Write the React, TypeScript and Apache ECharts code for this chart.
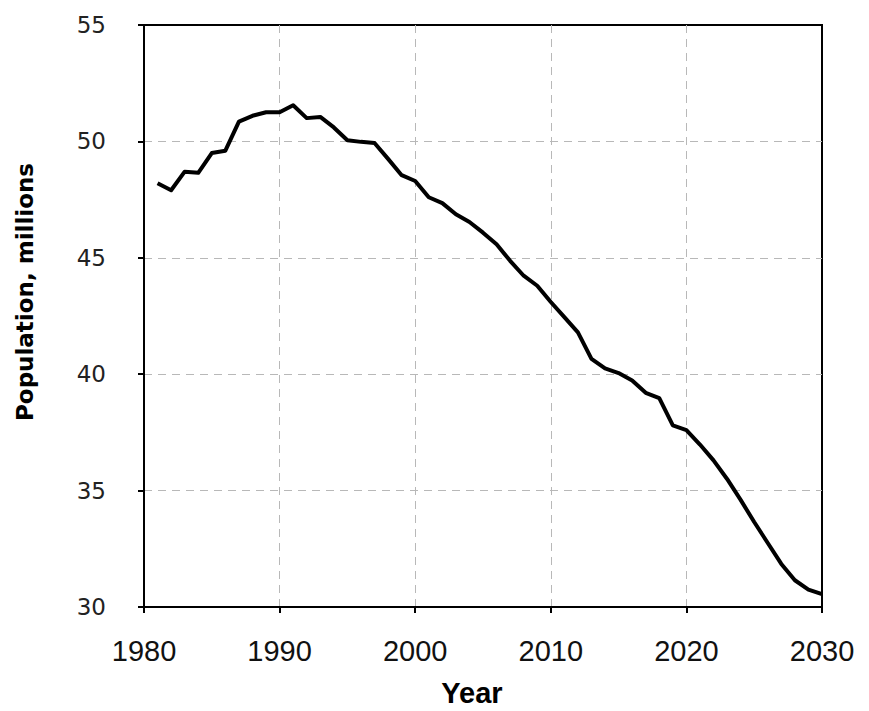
import React, { useEffect, useRef } from "react";
import * as echarts from "echarts";

const years: number[] = [
  1981, 1982, 1983, 1984, 1985, 1986, 1987, 1988, 1989, 1990,
  1991, 1992, 1993, 1994, 1995, 1996, 1997, 1998, 1999, 2000,
  2001, 2002, 2003, 2004, 2005, 2006, 2007, 2008, 2009, 2010,
  2011, 2012, 2013, 2014, 2015, 2016, 2017, 2018, 2019, 2020,
  2021, 2022, 2023, 2024, 2025, 2026, 2027, 2028, 2029, 2030,
];

const population: number[] = [
  48.2, 47.9, 48.7, 48.65, 49.5, 49.6, 50.85, 51.1, 51.25, 51.25,
  51.55, 51.0, 51.05, 50.6, 50.05, 49.98, 49.93, 49.25, 48.55, 48.3,
  47.6, 47.35, 46.87, 46.54, 46.08, 45.58, 44.87, 44.23, 43.8, 43.1,
  42.45, 41.8, 40.66, 40.25, 40.05, 39.73, 39.2, 38.97, 37.8, 37.6,
  36.98, 36.3, 35.5, 34.6, 33.65, 32.75, 31.85, 31.15, 30.75, 30.55,
];

const xTitle = "Year";
const yTitle = "Population, millions";

export default function App() {
  const ref = useRef<HTMLDivElement>(null);
  useEffect(() => {
    if (!ref.current) return;
    const chart = echarts.init(ref.current, null, { renderer: "svg" });
    const data = years.map((y, i) => [y, population[i]]);
    const grid = { left: 144, top: 25, right: 47, bottom: 104 };
    const split = {
      show: true,
      showMinLine: false,
      showMaxLine: false,
      lineStyle: { color: "#b8b8b8", type: [8, 6], width: 1 },
    };
    chart.setOption({
      animation: false,
      backgroundColor: "#ffffff",
      grid: { ...grid, show: true, borderColor: "#000", borderWidth: 2, backgroundColor: "transparent" },
      xAxis: {
        type: "value",
        min: 1980,
        max: 2030,
        interval: 10,
        axisLine: { show: true, onZero: false, lineStyle: { color: "#000", width: 2 } },
        axisTick: { show: true, length: 6, lineStyle: { color: "#000", width: 2 } },
        axisLabel: {
          margin: 29,
          color: "#111",
          fontSize: 29,
          fontFamily: "'Liberation Sans', Arial, sans-serif",
          formatter: (v: number) => String(v),
        },
        splitLine: split,
      },
      yAxis: {
        type: "value",
        min: 30,
        max: 55,
        interval: 5,
        axisLine: { show: true, onZero: false, lineStyle: { color: "#000", width: 2 } },
        axisTick: { show: true, length: 6, lineStyle: { color: "#000", width: 2 } },
        axisLabel: {
          margin: 38,
          color: "#222",
          fontSize: 23,
          fontFamily: "'DejaVu Sans', Verdana, sans-serif",
        },
        splitLine: split,
      },
      graphic: [
        {
          type: "text",
          x: 25,
          y: 292,
          rotation: Math.PI / 2,
          style: {
            text: yTitle,
            fill: "#000",
            font: "bold 23px 'DejaVu Sans', Verdana, sans-serif",
            textAlign: "center",
            textVerticalAlign: "middle",
          },
        },
        {
          type: "text",
          x: 472,
          y: 693,
          style: {
            text: xTitle,
            fill: "#000",
            font: "bold 29px 'Liberation Sans', Arial, sans-serif",
            textAlign: "center",
            textVerticalAlign: "middle",
          },
        },
      ],
      series: [
        {
          type: "line",
          data,
          showSymbol: false,
          symbol: "none",
          lineStyle: { color: "#000", width: 4, join: "round" },
          z: 5,
        },
      ],
    });
    return () => chart.dispose();
  }, []);
  return <div ref={ref} style={{ width: 869, height: 711, position: "absolute", left: 0, top: 0 }} />;
}
